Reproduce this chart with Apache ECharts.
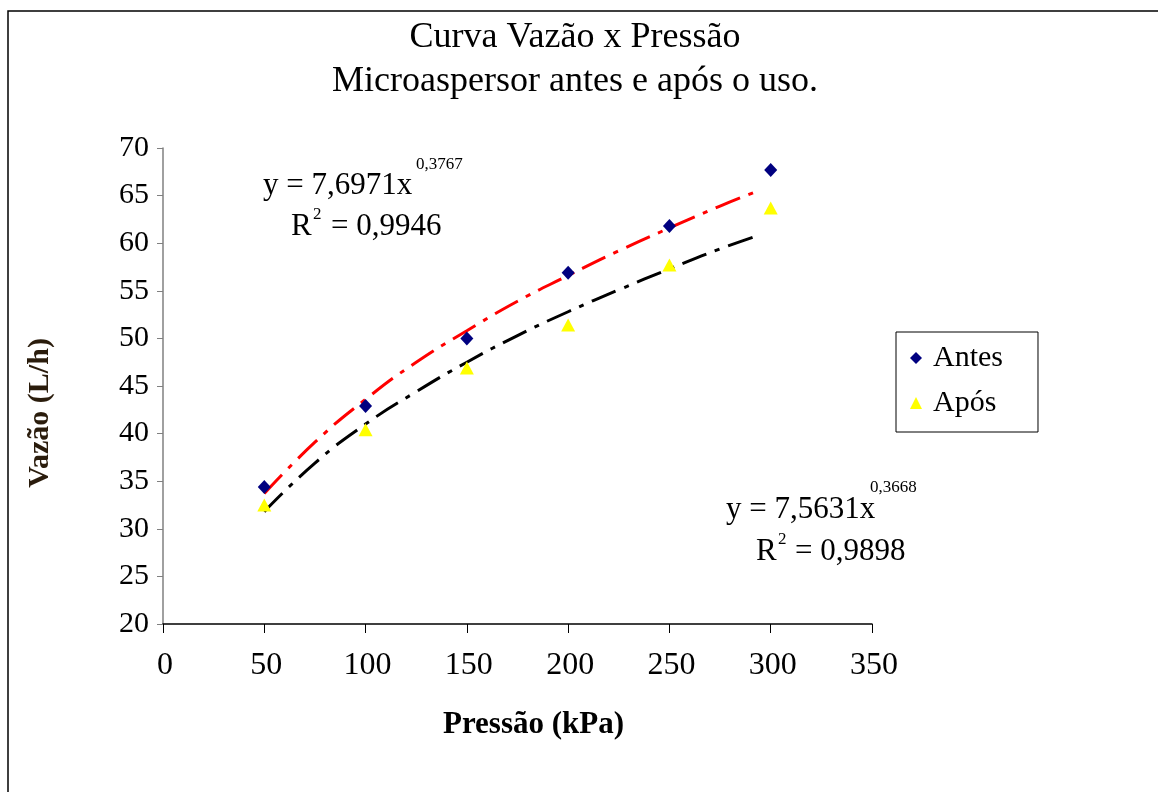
<!DOCTYPE html>
<html>
<head>
<meta charset="utf-8">
<script src="https://cdn.jsdelivr.net/npm/echarts@6/dist/echarts.min.js"></script>
<style>
  html, body { margin: 0; padding: 0; background: #fff; }
  #chart { width: 1158px; height: 792px; }
</style>
</head>
<body>
<div id="chart"></div>
<script>
// pressão (kPa) dos ensaios
const pressao = [50, 100, 150, 200, 250, 300];
// vazão medida (L/h)
const vazaoAntes = [34.4, 42.9, 50.0, 56.9, 61.8, 67.7];
const vazaoApos = [32.5, 40.4, 46.9, 51.4, 57.7, 63.7];

// linhas de tendência (potência)
const trendX = [50, 75, 100, 125, 150, 175, 200, 225, 250, 275, 295];
const trendAntes = [33.7, 39.1, 43.6, 47.5, 50.8, 53.9, 56.6, 59.2, 61.6, 63.9, 65.6];
const trendApos = [31.8, 36.9, 41.0, 44.4, 47.5, 50.3, 52.8, 55.1, 57.3, 59.4, 60.9];

const serif = '"Liberation Serif", "Times New Roman", serif';

function pares(xs, ys) {
  return xs.map((x, i) => [x, ys[i]]);
}

let myChart = echarts.init(document.getElementById('chart'));

let option = {
  backgroundColor: '#fff',
  animation: false,
  title: {
    text: 'Curva Vazão x Pressão\nMicroaspersor antes e após o uso.',
    left: 570,
    top: 11,
    textAlign: 'center',
    textStyle: { fontFamily: serif, fontSize: 36, fontWeight: 'normal', color: '#000', lineHeight: 44 },
  },
  grid: { left: 163, right: 286, top: 148, bottom: 168 },
  legend: {
    left: 896,
    top: 332,
    orient: 'vertical',
    data: ['Antes', 'Após'],
    borderColor: '#000',
    borderWidth: 1,
    padding: [11, 35, 14, 14],
    itemGap: 15,
    itemWidth: 12,
    itemHeight: 12,
    textStyle: { fontFamily: serif, fontSize: 30, color: '#000', padding: [0, 0, 0, 6] },
  },
  xAxis: {
    type: 'value',
    min: 0,
    max: 350,
    interval: 50,
    name: 'Pressão (kPa)',
    nameLocation: 'middle',
    nameGap: 85,
    nameTextStyle: { fontFamily: serif, fontSize: 31, fontWeight: 'bold', color: '#000', padding: [0, 0, 0, 32] },
    axisLine: { lineStyle: { color: '#000', width: 1.5 } },
    axisTick: { length: 9, lineStyle: { color: '#000' } },
    axisLabel: { fontFamily: serif, fontSize: 32, color: '#000', margin: 26, padding: [0, 0, 0, 4] },
    splitLine: { show: false },
  },
  yAxis: {
    type: 'value',
    min: 20,
    max: 70,
    interval: 5,
    axisLine: { show: true, lineStyle: { color: '#808080', width: 1.5 } },
    axisTick: { show: true, length: 6, lineStyle: { color: '#808080' } },
    axisLabel: { fontFamily: serif, fontSize: 30, color: '#000', margin: 14 },
    splitLine: { show: false },
  },
  series: [
    {
      name: 'tendência antes',
      type: 'line',
      data: pares(trendX, trendAntes),
      smooth: true,
      showSymbol: false,
      lineStyle: { color: '#ff0000', width: 3, type: [26, 9, 5, 9] },
      z: 1,
    },
    {
      name: 'tendência após',
      type: 'line',
      data: pares(trendX, trendApos),
      smooth: true,
      showSymbol: false,
      lineStyle: { color: '#000', width: 3, type: [26, 9, 5, 9] },
      z: 1,
    },
    {
      name: 'Antes',
      type: 'scatter',
      data: pares(pressao, vazaoAntes),
      symbol: 'diamond',
      symbolSize: [13, 14],
      itemStyle: { color: '#000080', opacity: 1 },
      z: 3,
    },
    {
      name: 'Após',
      type: 'scatter',
      data: pares(pressao, vazaoApos),
      symbol: 'triangle',
      symbolSize: [14, 13],
      itemStyle: { color: '#ffff00', opacity: 1 },
      z: 3,
    },
  ],
  graphic: [
    // moldura
    { type: 'rect', shape: { x: 8, y: 11, width: 1200, height: 900 }, style: { fill: 'none', stroke: '#000', lineWidth: 1.5 }, silent: true },
    // título do eixo y
    {
      type: 'text', x: 40, y: 413, rotation: Math.PI / 2,
      style: { text: 'Vazão (L/h)', font: 'bold 30px ' + serif, fill: '#2a1c0c', align: 'center', verticalAlign: 'middle' },
    },
    // equação antes
    { type: 'text', left: 263, top: 170, style: { text: 'y = 7,6971x', font: '31px ' + serif, fill: '#000' } },
    { type: 'text', left: 416, top: 156, style: { text: '0,3767', font: '17px ' + serif, fill: '#000' } },
    { type: 'text', left: 291, top: 211, style: { text: 'R', font: '31px ' + serif, fill: '#000' } },
    { type: 'text', left: 313, top: 206, style: { text: '2', font: '17px ' + serif, fill: '#000' } },
    { type: 'text', left: 331, top: 211, style: { text: '= 0,9946', font: '31px ' + serif, fill: '#000' } },
    // equação após
    { type: 'text', left: 726, top: 494, style: { text: 'y = 7,5631x', font: '31px ' + serif, fill: '#000' } },
    { type: 'text', left: 870, top: 479, style: { text: '0,3668', font: '17px ' + serif, fill: '#000' } },
    { type: 'text', left: 756, top: 536, style: { text: 'R', font: '31px ' + serif, fill: '#000' } },
    { type: 'text', left: 778, top: 531, style: { text: '2', font: '17px ' + serif, fill: '#000' } },
    { type: 'text', left: 795, top: 536, style: { text: '= 0,9898', font: '31px ' + serif, fill: '#000' } },
  ],
};

myChart.setOption(option);
</script>
</body>
</html>
